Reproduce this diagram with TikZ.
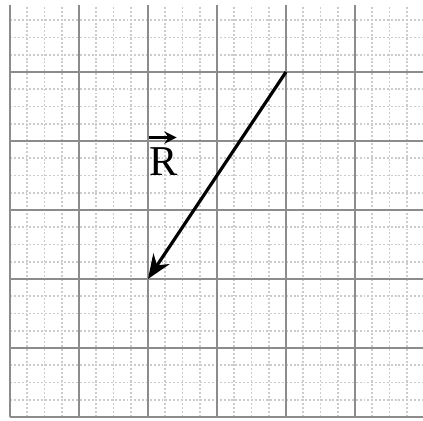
\documentclass[tikz,border=0pt]{standalone}
\usepackage{fontspec}
\setmainfont{Liberation Serif}
\usetikzlibrary{arrows.meta}
\begin{document}
\begin{tikzpicture}[x=69pt*0.4118, y=69pt*0.4118,
  minorgrid/.style={gray!40, line width=0.7pt, dash pattern=on 0.8pt off 0.8pt},
  majorgrid/.style={gray!90, line width=0.8pt},
  vec/.style={line width=1.3pt, -{Stealth[length=10pt, width=8pt]}},
  lbl/.style={font=\fontsize{17.5}{20}\selectfont, inner sep=0pt}]
\useasboundingbox (-0.145,-0.058) rectangle (5.986,6.043);
\begin{scope}
\clip (-0.2,-0.1) rectangle (5.986,5.96);
\draw[minorgrid, step=0.25] (0,0) grid (6.5,6.5);
\draw[majorgrid, step=1] (0,0) grid (6.5,6.5);
\end{scope}
\coordinate (start) at (4,5);
\coordinate (end) at (2,2);
\draw[vec] (start) -- (end);
\node[lbl] (R) at (2.22,3.7) {R};
\draw[line width=1.3pt, -{Stealth[length=5pt, width=5pt]}] ([xshift=0pt,yshift=4pt]R.north west) -- ([xshift=-0.5pt,yshift=4pt]R.north east);
\end{tikzpicture}
\end{document}
